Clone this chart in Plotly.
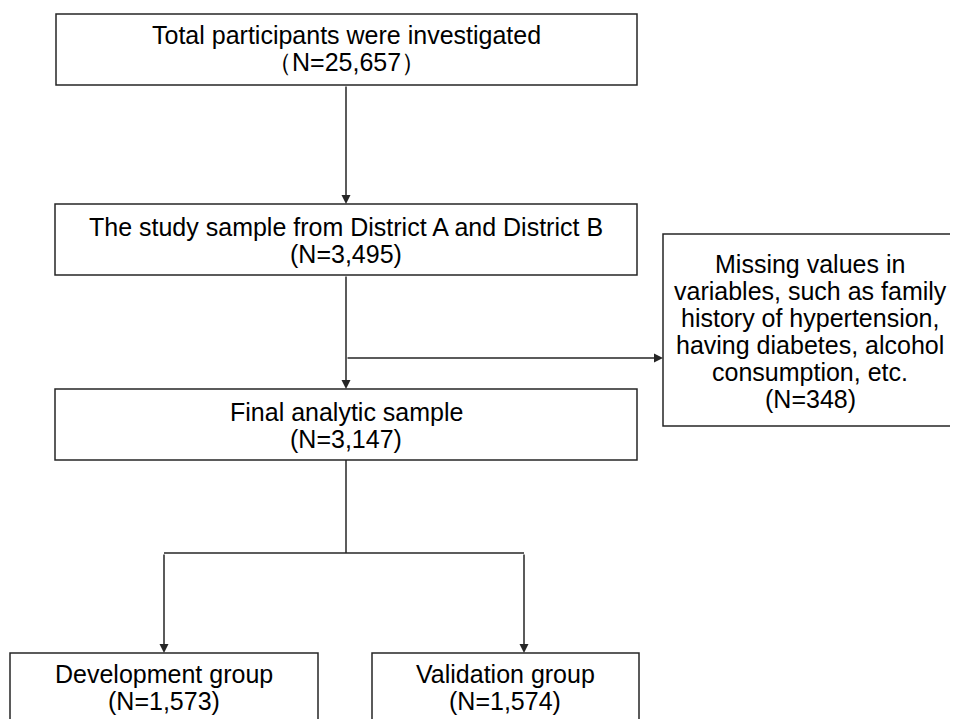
import plotly.graph_objects as go

# Box definitions (pixel-like coordinates, y grows downward)
box_lines = [
    ["Total participants were investigated", "（N=25,657）"],
    ["The study sample from District A and District B", "(N=3,495)"],
    ["Final analytic sample", "(N=3,147)"],
    ["Missing values in", "variables, such as family", "history of hypertension,",
     "having diabetes, alcohol", "consumption, etc.", "(N=348)"],
    ["Development group", "(N=1,573)"],
    ["Validation group", "(N=1,574)"],
]
box_x0 = [56, 55, 55, 663, 10, 372]
box_x1 = [637, 637, 637, 956, 318, 639]
box_y0 = [14, 204, 389, 234, 653, 653]
box_y1 = [85, 275, 460, 426, 730, 730]
text_cx = [346, 346, 346, 810, 164, 505]
text_y0 = [35, 227, 412, 264, 674, 674]
line_gap = 27

# Connectors
conn_x0 = [346, 346, 346, 346, 164, 164, 524]
conn_y0 = [85, 275, 358, 460, 553, 553, 553]
conn_x1 = [346, 346, 663, 346, 524, 164, 524]
conn_y1 = [204, 389, 358, 553, 553, 653, 653]
conn_arrow = [True, True, True, False, False, True, True]

W, H = 958, 719
OFF = 8  # page body margin
LINE = "#262626"
FONT = dict(family="Liberation Sans, Arial, sans-serif", size=25, color="#000000")

fig = go.Figure()
fig.add_trace(go.Scatter(x=[0, W], y=[0, H], mode="markers",
                         marker=dict(opacity=0), hoverinfo="skip", showlegend=False))

for i, lines in enumerate(box_lines):
    fig.add_shape(type="rect", xref="x", yref="y",
                  x0=box_x0[i], x1=box_x1[i], y0=box_y0[i], y1=box_y1[i],
                  line=dict(color=LINE, width=1.5), fillcolor="white", layer="below")
    for j, ln in enumerate(lines):
        fig.add_annotation(x=text_cx[i], y=text_y0[i] + j * line_gap, xref="x", yref="y",
                           text=ln, showarrow=False, font=FONT, align="center",
                           xanchor="center", yanchor="middle")

for x0, y0, x1, y1, arr in zip(conn_x0, conn_y0, conn_x1, conn_y1, conn_arrow):
    if arr:
        fig.add_annotation(x=x1, y=y1, ax=x0, ay=y0, xref="x", yref="y",
                           axref="x", ayref="y", text="", showarrow=True,
                           arrowhead=2, arrowsize=1.2, arrowwidth=1.5,
                           arrowcolor=LINE, standoff=0)
    else:
        fig.add_shape(type="line", xref="x", yref="y", x0=x0, y0=y0, x1=x1, y1=y1,
                      line=dict(color=LINE, width=1.5))

fig.update_xaxes(range=[OFF, W + OFF], visible=False, fixedrange=True)
fig.update_yaxes(range=[H + OFF, OFF], visible=False, fixedrange=True)
fig.update_layout(width=W, height=H, margin=dict(l=0, r=0, t=0, b=0),
                  plot_bgcolor="white", paper_bgcolor="white", showlegend=False)

fig.write_html("out.html")
